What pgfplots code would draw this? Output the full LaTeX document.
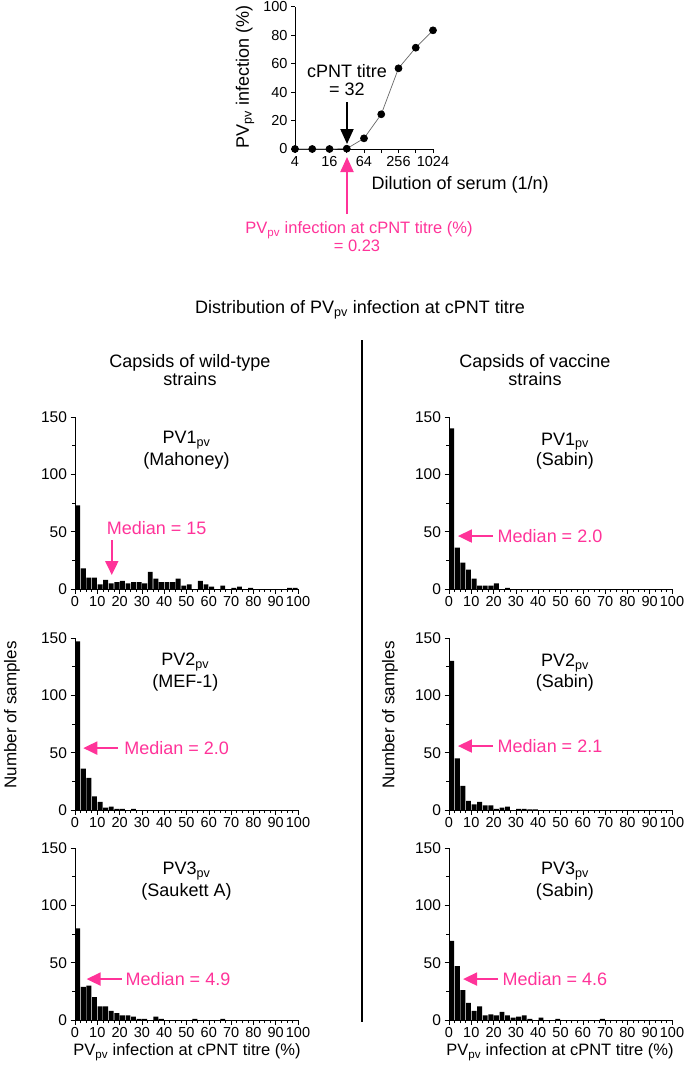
\documentclass[border=0pt]{standalone}
\usepackage{fontspec}
\setmainfont{Liberation Sans}
\usepackage{pgfplots}
\usepackage{pgfplotstable}
\pgfplotsset{compat=1.18}
\usetikzlibrary{arrows.meta}
\definecolor{mypink}{RGB}{255,51,153}
\newcommand{\fs}[1]{\fontsize{#1}{#1}\selectfont}
\newcommand{\pv}{\textsubscript{pv}}

\pgfplotstableread{
x y
1.25 73
3.75 18
6.25 10
8.75 10
11.25 4
13.75 8
16.25 5
18.75 6
21.25 7
23.75 5
26.25 6
28.75 6
31.25 5
33.75 15
36.25 9
38.75 6
41.25 6
43.75 6
46.25 9
48.75 3
51.25 4
56.25 7
58.75 4
61.25 2
66.25 3
71.25 1
73.75 2
78.75 1
96.25 1
98.75 1
}\tA
\pgfplotstableread{
x y
1.25 140
3.75 36
6.25 23
8.75 17
11.25 9
13.75 3
16.25 3
18.75 3
21.25 5
26.25 1
}\tB
\pgfplotstableread{
x y
1.25 147
3.75 36
6.25 28
8.75 12
11.25 7
13.75 2
16.25 3
18.75 1
21.25 1
26.25 1
}\tC
\pgfplotstableread{
x y
1.25 130
3.75 45
6.25 21
8.75 8
11.25 5
13.75 7
16.25 4
18.75 4
21.25 1
23.75 2
26.25 3
31.25 1
33.75 1
36.25 0.5
38.75 0.5
}\tD
\pgfplotstableread{
x y
1.25 80
3.75 29
6.25 30
8.75 20
11.25 12
13.75 12
16.25 8
18.75 6
21.25 4
23.75 4
26.25 3
28.75 1
31.25 1
36.25 3
38.75 1
53.75 1
66.25 1
}\tE
\pgfplotstableread{
x y
1.25 69
3.75 47
6.25 26
8.75 15
11.25 8
13.75 12
16.25 4
18.75 5
21.25 4
23.75 7
26.25 4
28.75 2
31.25 3
33.75 4
36.25 1
41.25 2
48.75 1
68.75 1
}\tF

\pgfplotsset{
  hist/.style={
    scale only axis, width=223pt, height=172pt,
    anchor=south west,
    xmin=0, xmax=100, ymin=0, ymax=150,
    axis lines=left, axis line style={-, line width=0.6pt},
    xtick={0,10,...,100}, minor x tick num=3,
    ytick={0,50,100,150}, minor y tick num=1,
    tick align=outside, major tick length=4.5pt, minor tick length=3pt,
    tick style={black, line width=0.6pt},
    yticklabel style={font=\fs{15.5}},
    xticklabel style={font=\fs{14.5}, yshift=1pt},
    /pgf/number format/assume math mode=true,
    clip=false,
  },
  bars/.style={ybar, bar width=2.2, fill=black, draw=none},
}
\tikzset{
  medarrow/.style={-{Triangle[length=14pt,width=13pt]}, line width=2pt, mypink},
}

\begin{document}
\begin{tikzpicture}
\useasboundingbox (0,0) rectangle (685pt,-1066pt);

% ---------- top dilution curve ----------
\begin{axis}[
  scale only axis, width=138pt, height=142.3pt,
  at={(295pt,-149pt)}, anchor=south west,
  xmode=log, log basis x=2, xmin=4, xmax=1024, ymin=0, ymax=100,
  axis lines=left, axis line style={-, line width=0.6pt},
  xtick={4,8,16,32,64,128,256,512,1024},
  xticklabels={4,,16,,64,,256,,1024},
  ytick={0,20,40,60,80,100},
  tick align=outside, major tick length=4pt,
  tick style={black, line width=0.6pt},
  tick label style={font=\fs{14.5}},
  /pgf/number format/assume math mode=true,
  clip=false,
]
\addplot[black!60, line width=0.7pt, mark=*, mark size=3.5pt,
  mark options={fill=black, draw=black}]
  coordinates {(4,0)(8,0)(16,0)(32,0.23)(64,7.5)(128,24.4)(256,56.7)(512,71.2)(1024,83.4)};
\end{axis}
\node[font=\fs{18}, rotate=90] at (245pt,-77pt) {PV\pv{} infection (\%)};
\node[font=\fs{18}, anchor=west] at (368pt,-185pt) {Dilution of serum (1/n)};
\node[font=\fs{18}] at (347pt,-70.7pt) {cPNT titre};
\node[font=\fs{18}] at (347pt,-89.3pt) {= 32};
\draw[-{Triangle[length=15pt,width=13pt]}, line width=2pt, black] (347pt,-102pt) -- (347pt,-144pt);
\draw[-{Triangle[length=15pt,width=13pt]}, line width=2pt, mypink] (347pt,-214pt) -- (347pt,-157pt);
\node[font=\fs{16.5}, text=mypink] at (359pt,-230pt) {PV\pv{} infection at cPNT titre (\%)};
\node[font=\fs{16.5}, text=mypink] at (357pt,-246pt) {= 0.23};

% ---------- headings ----------
\node[font=\fs{18}] at (360pt,-310pt) {Distribution of PV\pv{} infection at cPNT titre};
\node[font=\fs{18}, align=center] at (190pt,-370pt) {Capsids of wild-type\\strains};
\node[font=\fs{18}, align=center] at (535pt,-370pt) {Capsids of vaccine\\strains};
\draw[line width=1.2pt] (362pt,-340pt) -- (362pt,-1022pt);

% ---------- left top ----------
\begin{axis}[hist, at={(75pt,-589pt)}]
\addplot[bars] table {\tA};
\node[font=\fs{18}] at (axis cs:50,130) {PV1\pv};
\node[font=\fs{18}] at (axis cs:50,111.6) {(Mahoney)};
\node[font=\fs{18}, text=mypink] at (axis cs:36.6,53.2) {Median = 15};
\draw[medarrow] (axis cs:16.5,42.7) -- (axis cs:16.5,12.2);
\end{axis}

% ---------- right top ----------
\begin{axis}[hist, at={(449pt,-589pt)}]
\addplot[bars] table {\tB};
\node[font=\fs{18}] at (axis cs:52,128.5) {PV1\pv};
\node[font=\fs{18}] at (axis cs:52,111.6) {(Sabin)};
\node[font=\fs{18}, text=mypink] at (axis cs:45.3,46.2) {Median = 2.0};
\draw[medarrow] (axis cs:19.7,46.2) -- (axis cs:4,46.2);
\end{axis}

% ---------- left middle ----------
\begin{axis}[hist, at={(75pt,-810pt)}]
\addplot[bars] table {\tC};
\node[font=\fs{18}] at (axis cs:49.5,129.3) {PV2\pv};
\node[font=\fs{18}] at (axis cs:49.5,110.5) {(MEF-1)};
\node[font=\fs{18}, text=mypink] at (axis cs:45.6,54) {Median = 2.0};
\draw[medarrow] (axis cs:19.3,54) -- (axis cs:3.7,54);
\end{axis}

% ---------- right middle ----------
\begin{axis}[hist, at={(449pt,-810pt)}]
\addplot[bars] table {\tD};
\node[font=\fs{18}] at (axis cs:52,128) {PV2\pv};
\node[font=\fs{18}] at (axis cs:52,110.5) {(Sabin)};
\node[font=\fs{18}, text=mypink] at (axis cs:45.3,55.8) {Median = 2.1};
\draw[medarrow] (axis cs:19.7,55.8) -- (axis cs:4,55.8);
\end{axis}

% ---------- left bottom ----------
\begin{axis}[hist, at={(75pt,-1020pt)}]
\addplot[bars] table {\tE};
\node[font=\fs{18}] at (axis cs:50,130) {PV3\pv};
\node[font=\fs{18}] at (axis cs:50,111.5) {(Saukett A)};
\node[font=\fs{18}, text=mypink] at (axis cs:46.2,35.7) {Median = 4.9};
\draw[medarrow] (axis cs:20.9,35.7) -- (axis cs:5.2,35.7);
\end{axis}

% ---------- right bottom ----------
\begin{axis}[hist, at={(449pt,-1020pt)}]
\addplot[bars] table {\tF};
\node[font=\fs{18}] at (axis cs:52,130) {PV3\pv};
\node[font=\fs{18}] at (axis cs:52,111.5) {(Sabin)};
\node[font=\fs{18}, text=mypink] at (axis cs:47.5,35.7) {Median = 4.6};
\draw[medarrow] (axis cs:22,35.7) -- (axis cs:6.3,35.7);
\end{axis}

% ---------- shared labels ----------
\node[font=\fs{17}, rotate=90] at (12pt,-715pt) {Number of samples};
\node[font=\fs{17}, rotate=90] at (390pt,-715pt) {Number of samples};
\node[font=\fs{16.5}] at (187pt,-1052pt) {PV\pv{} infection at cPNT titre (\%)};
\node[font=\fs{16.5}] at (560pt,-1052pt) {PV\pv{} infection at cPNT titre (\%)};
\end{tikzpicture}
\end{document}
